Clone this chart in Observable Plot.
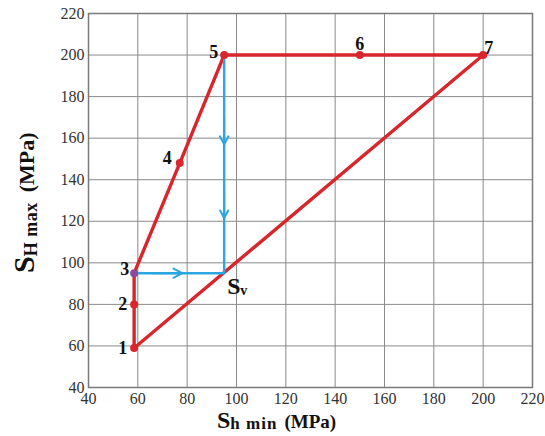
<!DOCTYPE html>
<html>
<head>
<meta charset="utf-8">
<script src="https://cdn.jsdelivr.net/npm/d3@7"></script>
<script src="https://cdn.jsdelivr.net/npm/@observablehq/plot@0.6"></script>
<style>
  html, body { margin: 0; padding: 0; background: #fff; }
  svg { display: block; }
  svg text { font-family: "Liberation Serif", "Times New Roman", serif !important; }
</style>
</head>
<body>
<div id="chart"></div>
<script>
// ---- data ----
const xTicks = [40, 60, 80, 100, 120, 140, 160, 180, 200, 220];
const yTicks = [40, 60, 80, 100, 120, 140, 160, 180, 200, 220];

const pointNames = ["1", "2", "3", "4", "5", "6", "7"];
const shMin = [58.5, 58.5, 58.5, 77, 95, 150, 200];
const sHMax = [59, 80, 95, 148, 200, 200, 200];

// closed red path 1-2-3-4-5-6-7-1
const redPathX = [58.5, 58.5, 58.5, 77, 95, 150, 200, 58.5];
const redPathY = [59, 80, 95, 148, 200, 200, 200, 59];

// blue path 3 -> Sv -> 5
const bluePathX = [58.5, 95, 95];
const bluePathY = [95, 95, 200];

// arrow heads on the blue path
const arrowX1 = [66, 95, 95];
const arrowY1 = [95, 170, 134];
const arrowX2 = [78, 95, 95];
const arrowY2 = [95, 157, 121.5];

const svX = 95, svY = 95;

// ---- build tables ----
const pts = pointNames.map((n, i) => ({name: n, x: shMin[i], y: sHMax[i]}));
const redPath = redPathX.map((x, i) => ({x, y: redPathY[i]}));
const bluePath = bluePathX.map((x, i) => ({x, y: bluePathY[i]}));
const arrows = arrowX1.map((x1, i) => ({x1, y1: arrowY1[i], x2: arrowX2[i], y2: arrowY2[i]}));

const RED = "#d9252c";
const BLUE = "#2aa7df";
const SERIF = "'Liberation Serif', 'Times New Roman', serif";

const labelOffsets = {
  "1": {dx: -7, dy: 0, anchor: "end"},
  "2": {dx: -7, dy: 0, anchor: "end"},
  "3": {dx: -5, dy: -4, anchor: "end"},
  "4": {dx: -8, dy: -5, anchor: "end"},
  "5": {dx: -6, dy: -3, anchor: "end"},
  "6": {dx: 0, dy: -11, anchor: "middle"},
  "7": {dx: 1, dy: -7, anchor: "start"}
};

const labelMarks = pts.map(p => Plot.text([p], {
  x: "x", y: "y", text: "name",
  dx: labelOffsets[p.name].dx, dy: labelOffsets[p.name].dy,
  textAnchor: labelOffsets[p.name].anchor,
  fontSize: 18, fontWeight: "bold", fill: "#111",
  fontFamily: SERIF
}));

const plot = Plot.plot({
  width: 545,
  height: 436,
  marginLeft: 88,
  marginRight: 13,
  marginTop: 13,
  marginBottom: 49,
  x: {domain: [40, 220]},
  y: {domain: [40, 220]},
  style: {fontFamily: SERIF, fontSize: "16px", color: "#333", background: "white"},
  marks: [
    Plot.gridX(xTicks, {stroke: "#8a8a8a", strokeOpacity: 1, strokeWidth: 1}),
    Plot.gridY(yTicks, {stroke: "#8a8a8a", strokeOpacity: 1, strokeWidth: 1}),
    Plot.frame({stroke: "#7a7a7a", strokeWidth: 1.5}),
    Plot.axisX(xTicks, {tickSize: 0, tickPadding: 5, label: null, fontSize: 16, fill: "#333", fontFamily: SERIF}),
    Plot.axisY(yTicks, {tickSize: 0, tickPadding: 4, label: null, fontSize: 16, fill: "#333", fontFamily: SERIF}),
    Plot.line(redPath, {x: "x", y: "y", stroke: RED, strokeWidth: 3.4, strokeLinejoin: "round"}),
    Plot.line(bluePath, {x: "x", y: "y", stroke: BLUE, strokeWidth: 2.4}),
    Plot.arrow(arrows, {x1: "x1", y1: "y1", x2: "x2", y2: "y2", stroke: BLUE, strokeWidth: 2, headLength: 9, headAngle: 55}),
    Plot.dot(pts.filter(p => p.name !== "3"), {x: "x", y: "y", r: 4, fill: RED}),
    Plot.dot(pts.filter(p => p.name === "3"), {x: "x", y: "y", r: 4, fill: "#8f4a98"}),
    ...labelMarks,
    Plot.text([{x: svX, y: svY}], {x: "x", y: "y", text: () => "S", dx: 3, dy: 13, textAnchor: "start",
      fontSize: 24, fontWeight: "bold", fill: "#111", fontFamily: SERIF}),
    Plot.text([{x: svX, y: svY}], {x: "x", y: "y", text: () => "v", dx: 16, dy: 17, textAnchor: "start",
      fontSize: 14, fontWeight: "bold", fill: "#111", fontFamily: SERIF})
  ]
});

// axis titles with subscripts
const svg = d3.select(plot);
const xt = svg.append("text")
  .attr("x", 217).attr("y", 428)
  .attr("text-anchor", "start")
  .attr("font-weight", "bold").attr("fill", "#111");
xt.append("tspan").attr("font-size", 24).text("S");
xt.append("tspan").attr("font-size", 17).attr("dy", 1).attr("letter-spacing", 1).text("h min");
xt.append("tspan").attr("font-size", 19).attr("dy", -1).attr("dx", 7).text("(MPa)");

const yt = svg.append("text")
  .attr("transform", "translate(34,273) rotate(-90)")
  .attr("text-anchor", "start")
  .attr("font-weight", "bold").attr("fill", "#111");
yt.append("tspan").attr("font-size", 30).text("S");
yt.append("tspan").attr("font-size", 18).attr("dy", 3).attr("letter-spacing", 0.5).text("H max");
yt.append("tspan").attr("font-size", 22).attr("dy", -3).attr("dx", 10).text("(MPa)");

document.getElementById("chart").appendChild(plot);
</script>
</body>
</html>
